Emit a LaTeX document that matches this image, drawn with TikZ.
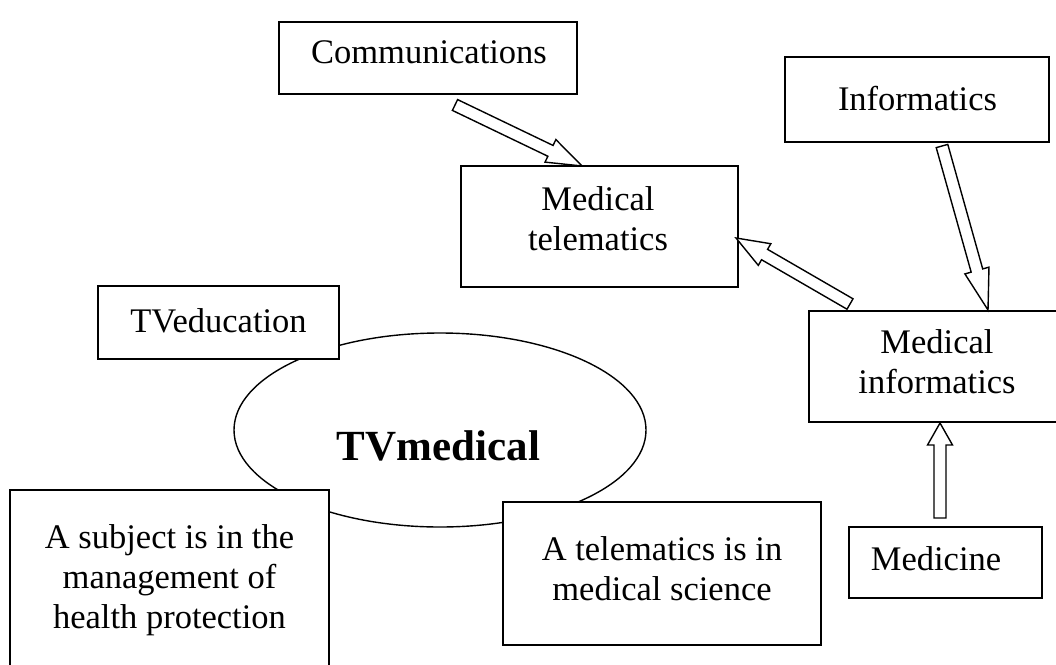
\documentclass[tikz,border=0pt]{standalone}
\usepackage{fontspec}
\setmainfont{Liberation Serif}
\usetikzlibrary{calc,shapes.geometric}
\newcommand\blockarrow[3]{%
 \draw[blk] ($(#1)!6pt!90:(#2)$) -- ($(#2)!#3!(#1)!6pt!-90:(#1)$) -- ($(#2)!#3!(#1)!12.5pt!-90:(#1)$) -- (#2) -- ($(#2)!#3!(#1)!12.5pt!90:(#1)$) -- ($(#2)!#3!(#1)!6pt!90:(#1)$) -- ($(#1)!6pt!-90:(#2)$) -- cycle;}
\begin{document}
\begin{tikzpicture}[x=1pt,y=-1pt,
  box/.style={draw, line width=1.5pt, fill=white, inner sep=0pt, rectangle},
  txt/.style={font=\fontsize{34.5}{40}\selectfont, inner sep=0pt, align=center, anchor=base},
  bigtxt/.style={font=\fontsize{43}{48}\selectfont\bfseries, inner sep=0pt, anchor=base},
  blk/.style={draw, line width=1.4pt, fill=white, line join=miter}]
\useasboundingbox (0,0) rectangle (1056,664);
\clip (0,0) rectangle (1056,664);
\fill[white] (0,0) rectangle (1056,664);
% ellipse
\node[ellipse, draw, line width=1.4pt, minimum width=412pt, minimum height=194pt, inner sep=0pt] (tvmed) at (440,430) {};
\node[bigtxt] (tvmedtxt) at (438.5,460) {TVmedical};
% boxes
\node[box, minimum width=298pt, minimum height=72pt] (comm) at (428,58) {};
\node[txt] (commtxt) at (429,63) {Communications};
\node[box, minimum width=264pt, minimum height=85pt] (inf) at (917,99.5) {};
\node[txt] (inftxt) at (917.5,110) {Informatics};
\node[box, minimum width=277pt, minimum height=121pt] (medtel) at (599.5,226.5) {};
\node[txt] (medteltxt) at (598,250) {Medical\\telematics};
\node[box, minimum width=256pt, minimum height=111pt] (medinf) at (937,366.5) {};
\node[txt] (medinftxt) at (937,393) {Medical\\informatics};
\node[box, minimum width=193pt, minimum height=71pt] (med) at (945.5,562.5) {};
\node[txt] (medtxt) at (936,570) {Medicine};
\node[box, minimum width=241pt, minimum height=73pt] (tvedu) at (218.5,322.5) {};
\node[txt] (tvedutxt) at (218.5,332) {TVeducation};
\node[box, minimum width=319pt, minimum height=190pt] (subj) at (169.5,585) {};
\node[txt] (subjtxt) at (169.5,628) {A subject is in the\\management of\\health protection};
\node[box, minimum width=318pt, minimum height=143pt] (telsci) at (662,573.5) {};
\node[txt] (telscitxt) at (662,600) {A telematics is in\\medical science};
% arrows
\coordinate (a1s) at (455,105); \coordinate (a1e) at (582,166);
\coordinate (a2s) at (850,304); \coordinate (a2e) at (736,238);
\coordinate (a3s) at (942,146); \coordinate (a3e) at (988,310);
\coordinate (a4s) at (940,518); \coordinate (a4e) at (940,423);
\blockarrow{a1s}{a1e}{35pt}
\blockarrow{a2s}{a2e}{33pt}
\blockarrow{a3s}{a3e}{41pt}
\blockarrow{a4s}{a4e}{22pt}
\end{tikzpicture}
\end{document}
